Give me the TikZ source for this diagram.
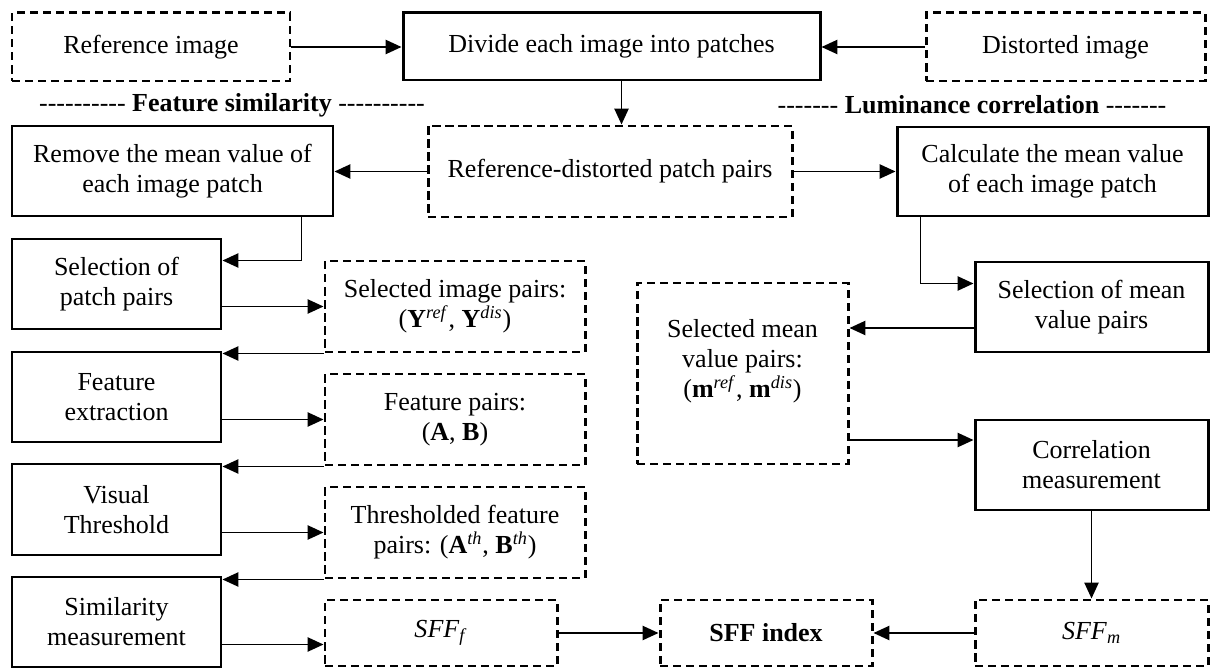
\documentclass[tikz,border=0pt]{standalone}
\usepackage{fontspec}
\setmainfont{Liberation Serif}
\usetikzlibrary{arrows.meta,calc}
\tikzset{
	boite/.style={draw,line width=1.7pt,align=center,inner sep=2pt},
	pointille/.style={boite,dash pattern=on 4.8pt off 2.6pt},
	taille/.style 2 args={minimum width=#1*0.02cm,minimum height=#2*0.02cm},
	fleche/.style={line width=1.1pt,-{Triangle[length=9pt,width=8pt]}},
	every node/.style={font=\fontsize{14.8}{17}\selectfont}
}
\newcommand{\tirets}[1]{\foreach \i in {1,...,#1}{-\kern0pt}}
\begin{document}
\begin{tikzpicture}[x=0.02cm,y=-0.02cm]
	\useasboundingbox (0,0) rectangle (1212,668);
%	Tracé des boîtes du haut :
	\node[pointille,taille={278}{68}] (refimg) at (151,47) {Reference image};
	\node[boite,taille={417}{67}] (diviser) at (611.5,46.5) {Divide each image into patches};
	\node[pointille,taille={279}{68}] (distimg) at (1065.5,47) {Distorted image};
%	Titres des deux branches :
	\node (titresim) at (232,105) {\tirets{10} \textbf{Feature similarity} \tirets{10}};
	\node (titrelum) at (972,105) {\tirets{7} \textbf{Luminance correlation} \tirets{7}};
	\node[boite,taille={321}{90}] (retirer) at (172.5,171) {Remove the mean value of\\each image patch};
	\node[pointille,taille={364}{91}] (paires) at (610,171.5) {Reference-distorted patch pairs};
	\node[boite,taille={311}{89}] (calculer) at (1052.5,171.5) {Calculate the mean value\\of each image patch};
%	Branche de gauche :
	\node[boite,taille={209}{90}] (selpatch) at (116.5,284) {Selection of\\patch pairs};
	\node[pointille,taille={260}{91}] (selimg) at (455,306.5) {Selected image pairs:\\(\textbf{Y}\textsuperscript{\textit{ref}}, \textbf{Y}\textsuperscript{\textit{dis}})};
	\node[boite,taille={209}{90}] (extraction) at (116.5,397) {Feature\\extraction};
	\node[pointille,taille={260}{91}] (caract) at (455,419.5) {Feature pairs:\\(\textbf{A}, \textbf{B})};
	\node[boite,taille={209}{91}] (seuil) at (116.5,509.5) {Visual\\Threshold};
	\node[pointille,taille={260}{91}] (seuillees) at (455,532.5) {Thresholded feature\\pairs: (\textbf{A}\textsuperscript{\textit{th}}, \textbf{B}\textsuperscript{\textit{th}})};
	\node[boite,taille={209}{90}] (simil) at (116.5,622) {Similarity\\measurement};
	\node[pointille,taille={232}{66}] (sfff) at (441,633) {\textit{SFF}\textsubscript{\textit{f}}};
%	Branche de droite :
	\node[boite,taille={233}{90}] (selmoy) at (1091.5,307) {Selection of mean\\value pairs};
	\node[pointille,taille={211}{181}] (pairesmoy) at (742.5,373.5) {Selected mean\\value pairs:\\(\textbf{m}\textsuperscript{\textit{ref}}, \textbf{m}\textsuperscript{\textit{dis}})\\ \mbox{}};
	\node[boite,taille={233}{90}] (correl) at (1091.5,465) {Correlation\\measurement};
	\node[pointille,taille={233}{66}] (sffm) at (1091.5,633) {\textit{SFF}\textsubscript{\textit{m}}};
	\node[pointille,taille={212}{66}] (indice) at (766,633) {\textbf{SFF index}};
%	Tracé des flèches :
	\draw[fleche] (refimg.east) -- (refimg.east -| diviser.west);
	\draw[fleche] (distimg.west) -- (distimg.west -| diviser.east);
	\coordinate (d) at ([xshift=0.2cm]diviser.south);
	\draw[fleche] (d) -- (d |- paires.north);
	\draw[fleche] (paires.west) -- (paires.west -| retirer.east);
	\draw[fleche] (paires.east) -- (paires.east -| calculer.west);
	\draw[fleche] ([xshift=-0.66cm]retirer.south east) |- ([yshift=-0.46cm]selpatch.north east);
	\draw[fleche] (selpatch.east |- selimg.west) -- (selimg.west);
	\draw[fleche] (selimg.south west) -- (selimg.south west -| extraction.north east);
	\draw[fleche] (extraction.east |- caract.west) -- (caract.west);
	\draw[fleche] (caract.south west) -- (caract.south west -| seuil.north east);
	\draw[fleche] (seuil.east |- seuillees.west) -- (seuillees.west);
	\draw[fleche] (seuillees.south west) -- (seuillees.south west -| simil.north east);
	\coordinate (s) at ([yshift=-0.45cm]simil.east);
	\draw[fleche] (s) -- (s -| sfff.west);
	\draw[fleche] (sfff) -- (indice);
	\draw[fleche] (sffm) -- (indice);
	\draw[fleche] ([xshift=0.5cm]calculer.south west) |- ([yshift=-0.46cm]selmoy.north west);
	\coordinate (m1) at ([yshift=-0.42cm]selmoy.west);
	\draw[fleche] (m1) -- (m1 -| pairesmoy.east);
	\coordinate (m2) at ([yshift=0.5cm]correl.west);
	\draw[fleche] (m2 -| pairesmoy.east) -- (m2);
	\draw[fleche] (correl) -- (sffm);
\end{tikzpicture}
\end{document}
